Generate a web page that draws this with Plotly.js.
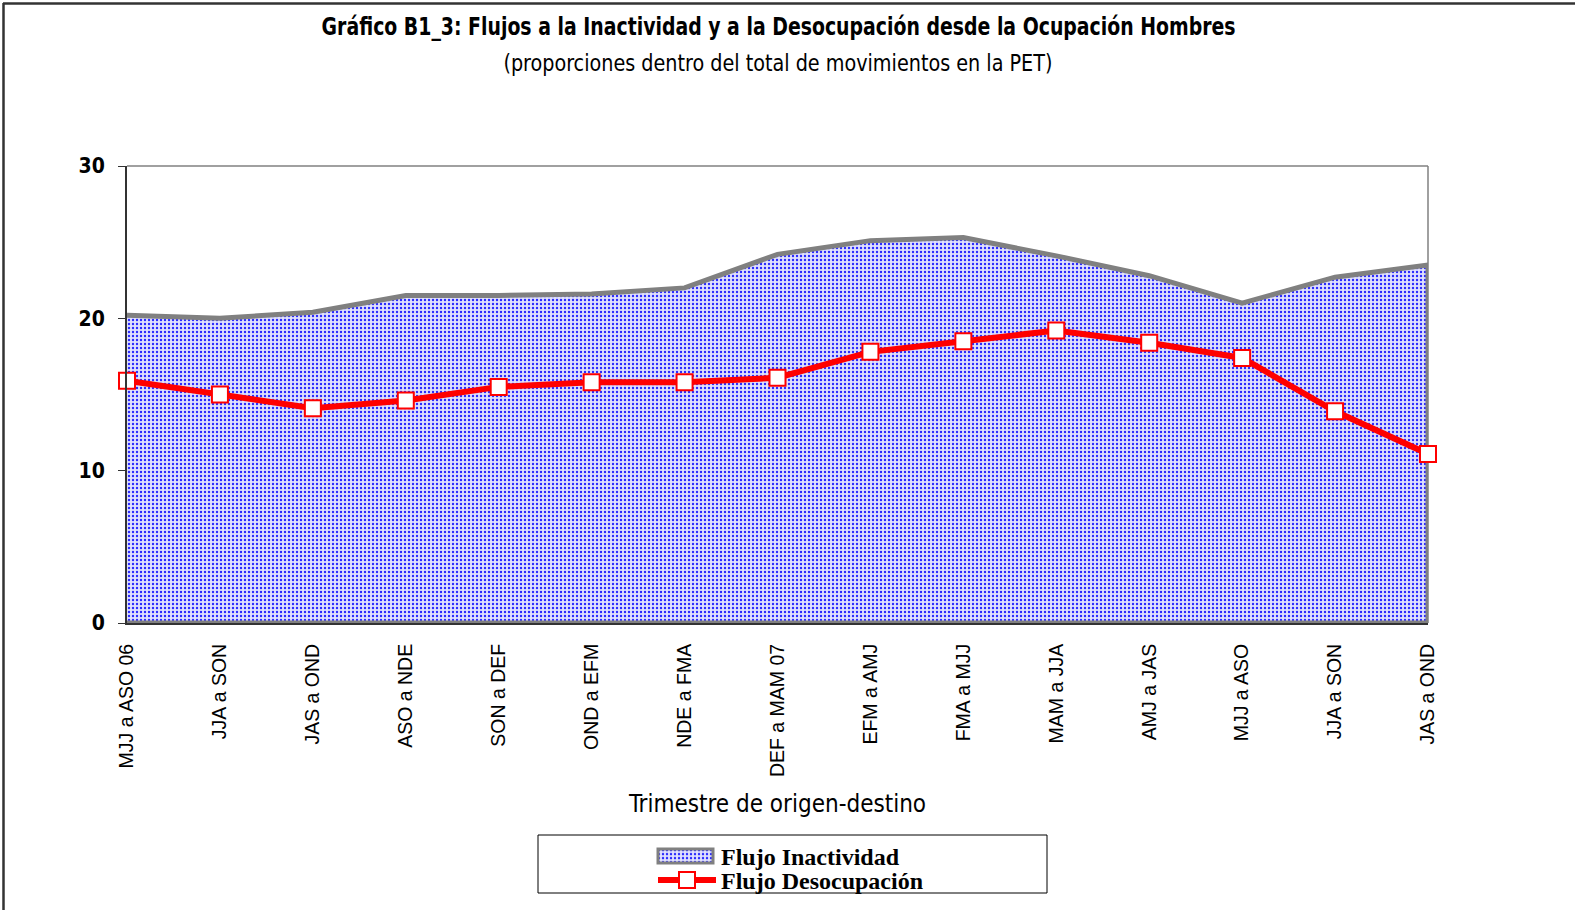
<!DOCTYPE html>
<html>
<head>
<meta charset="utf-8">
<script src="https://cdn.plot.ly/plotly-3.0.1.min.js"></script>
<style>
html,body{margin:0;padding:0;background:#fff;}
#chart{width:1575px;height:910px;}
</style>
</head>
<body>
<div id="chart"></div>
<script>
// ---- data ----
const categories = ["MJJ a ASO 06","JJA a SON","JAS a OND","ASO a NDE","SON a DEF","OND a EFM","NDE a FMA","DEF a MAM 07","EFM a AMJ","FMA a MJJ","MAM a JJA","AMJ a JAS","MJJ a ASO","JJA a SON","JAS a OND"];
const flujoInactividad = [20.2, 20.0, 20.4, 21.5, 21.5, 21.6, 22.0, 24.2, 25.1, 25.3, 24.1, 22.8, 21.0, 22.7, 23.5];
const flujoDesocupacion = [15.9, 15.0, 14.1, 14.6, 15.5, 15.8, 15.8, 16.1, 17.8, 18.5, 19.2, 18.4, 17.4, 13.9, 11.1];
const yTicks = [0, 10, 20, 30];

const titleText = "Gráfico B1_3: Flujos a la Inactividad y a la Desocupación desde la Ocupación Hombres";
const subtitleText = "(proporciones dentro del total de movimientos en la PET)";
const xTitle = "Trimestre de origen-destino";

// ---- layout geometry ----
const W = 1575, H = 910;
const L = 127, R = 1428, T = 166, B = 623;
const px = x => (x - L) / (R - L);
const py = y => (B - y) / (B - T);

const xs = categories.map((_, i) => i);
const narrow = "'Liberation Sans Narrow','Arial Narrow','DejaVu Sans Condensed',sans-serif";

const areaTrace = {
  type: 'scatter',
  name: 'Flujo Inactividad',
  x: xs.concat([xs[xs.length - 1], xs[0]]),
  y: flujoInactividad.concat([0, 0]),
  mode: 'lines',
  fill: 'toself',
  fillcolor: '#dcdcfc',
  fillpattern: {shape: '.', fgcolor: '#2828ff', bgcolor: '#e0e0fd', size: 4, solidity: 0.27},
  line: {color: '#808080', width: 5},
  cliponaxis: false,
  hoverinfo: 'skip'
};

const lineTrace = {
  type: 'scatter',
  name: 'Flujo Desocupación',
  x: xs,
  y: flujoDesocupacion,
  mode: 'lines+markers',
  line: {color: '#ff0000', width: 6},
  marker: {symbol: 'square', size: 16, color: '#ffffff', line: {color: '#ff0000', width: 2}},
  cliponaxis: false
};

const layout = {
  width: W, height: H,
  autosize: false,
  paper_bgcolor: '#ffffff',
  plot_bgcolor: '#ffffff',
  margin: {l: L, r: W - R, t: T, b: H - B, pad: 0, autoexpand: false},
  showlegend: true,
  legend: {
    x: px(653), xanchor: 'left',
    y: py(834), yanchor: 'top',
    bgcolor: 'rgba(0,0,0,0)',
    borderwidth: 0,
    itemwidth: 58,
    tracegroupgap: 0,
    font: {family: "'Liberation Serif','Times New Roman',serif", size: 24, color: '#000', weight: 'bold'}
  },
  xaxis: {
    range: [0, xs.length - 1],
    tickmode: 'array',
    tickvals: xs,
    ticktext: categories,
    tickangle: -90,
    ticks: '',
    ticklabelstandoff: 11,
    tickfont: {family: "'Liberation Sans',Arial,sans-serif", size: 19.5, color: '#000'},
    showgrid: false,
    zeroline: false,
    showline: true,
    linecolor: '#333333',
    linewidth: 2,
    automargin: false,
    title: {text: xTitle, font: {family: narrow, size: 24, color: '#000'}, standoff: 19},
    fixedrange: true
  },
  yaxis: {
    range: [0, 30],
    tickmode: 'array',
    tickvals: yTicks,
    ticktext: yTicks.map(String),
    ticks: 'outside',
    ticklen: 7,
    tickwidth: 1,
    tickcolor: '#333',
    ticklabelstandoff: 9,
    tickfont: {family: narrow, size: 21, color: '#000', weight: 'bold'},
    showgrid: false,
    zeroline: false,
    showline: true,
    linecolor: '#333333',
    linewidth: 2,
    automargin: false,
    fixedrange: true
  },
  shapes: [
    {type: 'line', xref: 'paper', yref: 'paper', x0: 0, x1: 1, y0: 1, y1: 1, line: {color: '#808080', width: 1.5}, layer: 'below'},
    {type: 'line', xref: 'paper', yref: 'paper', x0: 1, x1: 1, y0: 0, y1: 1, line: {color: '#808080', width: 1.5}, layer: 'below'},
    {type: 'line', xref: 'paper', yref: 'paper', x0: px(3), x1: px(1575), y0: py(3.5), y1: py(3.5), line: {color: '#333333', width: 2.5}},
    {type: 'line', xref: 'paper', yref: 'paper', x0: px(3.5), x1: px(3.5), y0: py(3), y1: py(910), line: {color: '#333333', width: 2.5}},
    {type: 'rect', xref: 'paper', yref: 'paper', x0: px(538), x1: px(1047), y0: py(835), y1: py(893), line: {color: '#000000', width: 1}, fillcolor: 'rgba(0,0,0,0)'}
  ],
  annotations: [
    {text: titleText, xref: 'paper', yref: 'paper', x: px(778), y: py(27), xanchor: 'center', yanchor: 'middle', showarrow: false,
     font: {family: narrow, size: 24, color: '#000', weight: 'bold'}},
    {text: subtitleText, xref: 'paper', yref: 'paper', x: px(778), y: py(63), xanchor: 'center', yanchor: 'middle', showarrow: false,
     font: {family: narrow, size: 23, color: '#000'}}
  ]
};

Plotly.newPlot('chart', [areaTrace, lineTrace], layout, {displayModeBar: false, staticPlot: true}).then(gd => {
  // narrow the title texts (reference uses a condensed face)
  const annTexts = gd.querySelectorAll('.annotation-text');
  const widths = [914, 549];
  annTexts.forEach((t, i) => {
    if (widths[i]) {
      t.setAttribute('textLength', widths[i]);
      t.setAttribute('lengthAdjust', 'spacingAndGlyphs');
    }
  });
  // legend: boxed symbol for the area series, tighter row spacing
  const items = gd.querySelectorAll('.legend .traces');
  if (items.length >= 2) {
    const fillPath = items[0].querySelector('.legendfill path');
    if (fillPath) {
      fillPath.setAttribute('d', 'M5,-7h55v14h-55z');
      fillPath.style.stroke = '#808080';
      fillPath.style.strokeWidth = '3px';
    }
    const linePath = items[0].querySelector('.legendlines path');
    if (linePath) linePath.style.display = 'none';
    const m = /translate\(\s*([-\d.]+)[ ,]+([-\d.]+)\s*\)/.exec(items[0].getAttribute('transform') || '');
    if (m) {
      const x0 = parseFloat(m[1]), y0 = parseFloat(m[2]);
      items[1].setAttribute('transform', 'translate(' + x0 + ',' + (y0 + 24) + ')');
    }
  }
});
</script>
</body>
</html>
